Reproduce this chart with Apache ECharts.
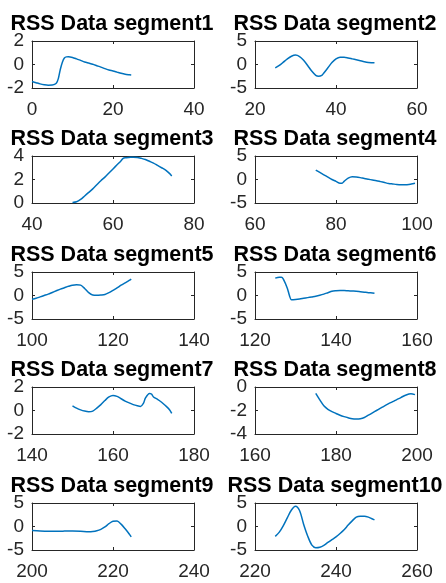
<!DOCTYPE html>
<html>
<head>
<meta charset="utf-8">
<script src="https://cdn.jsdelivr.net/npm/echarts@6/dist/echarts.min.js"></script>
<style>html,body{margin:0;padding:0;background:#fff}#c{width:446px;height:583px}</style>
</head>
<body>
<div id="c"></div>
<script>
const titles = ['RSS Data segment1','RSS Data segment2','RSS Data segment3','RSS Data segment4','RSS Data segment5','RSS Data segment6','RSS Data segment7','RSS Data segment8','RSS Data segment9','RSS Data segment10'];
const xRanges = [[0,40],[20,60],[40,80],[60,100],[100,140],[120,160],[140,180],[160,200],[200,240],[220,260]];
const yRanges = [[-2,2,2],[-5,5,5],[0,4,2],[-5,5,5],[-5,5,5],[-5,5,5],[-2,2,2],[-4,0,2],[-5,5,5],[-5,5,5]];
const xTickStep = 20;

const seg1 = [[0,-1.45],[1,-1.55],[2,-1.65],[3,-1.72],[4,-1.76],[5,-1.75],[6,-1.6],[6.5,-1.2],[7,-0.4],[7.5,0.2],[8,0.55],[8.5,0.65],[9,0.66],[10,0.6],[11,0.48],[12,0.35],[13,0.22],[14,0.12],[15,0.02],[16,-0.1],[17,-0.22],[18,-0.35],[19,-0.47],[20,-0.55],[21,-0.65],[22,-0.75],[23,-0.83],[24,-0.88],[24.5,-0.9]];
const seg2 = [[25,-0.7],[26,-0.2],[27,0.5],[28,1.2],[29,1.75],[30,2.0],[31,1.7],[32,0.9],[33,-0.2],[34,-1.4],[35,-2.3],[35.7,-2.5],[36.5,-2.3],[37,-1.8],[38,-0.7],[39,0.4],[40,1.2],[41,1.55],[42,1.55],[43,1.4],[44,1.2],[45,1.0],[46,0.8],[47,0.6],[48,0.45],[49,0.38],[49.5,0.35]];
const seg3 = [[50,0.05],[51,0.1],[52,0.3],[53,0.6],[54,0.9],[55,1.2],[56,1.55],[57,1.9],[58,2.2],[59,2.55],[60,2.9],[61,3.25],[62,3.6],[62.5,3.8],[63,3.85],[64,3.88],[65,3.9],[66,3.88],[67,3.8],[68,3.7],[69,3.55],[70,3.4],[71,3.2],[72,3.0],[73,2.8],[74,2.5],[74.5,2.3]];
const seg4 = [[75,2.0],[76,1.5],[77,1.0],[78,0.5],[79,0.0],[80,-0.4],[81,-0.8],[81.5,-0.8],[82,-0.4],[83,0.3],[84,0.6],[85,0.55],[86,0.4],[87,0.2],[88,0.05],[89,-0.1],[90,-0.25],[91,-0.45],[92,-0.65],[93,-0.85],[94,-0.95],[95,-1.05],[96,-1.1],[97,-1.1],[98,-1.05],[99,-0.9],[99.5,-0.8]];
const seg5 = [[100,-0.8],[101,-0.6],[102,-0.3],[103,0.0],[104,0.3],[105,0.65],[106,1.0],[107,1.35],[108,1.65],[109,1.95],[110,2.2],[111,2.3],[112,2.2],[113,1.5],[114,0.6],[115,0.1],[116,0.05],[117,0.1],[118,0.2],[119,0.6],[120,1.1],[121,1.6],[122,2.2],[123,2.7],[124,3.2],[124.5,3.5]];
const seg6 = [[125,3.7],[126,3.9],[126.5,3.9],[127,3.5],[128,1.5],[128.5,0],[129,-0.9],[130,-0.85],[131,-0.75],[132,-0.6],[133,-0.45],[134,-0.3],[135,-0.15],[136,0.05],[137,0.3],[138,0.6],[139,0.9],[140,1.0],[141,1.05],[142,1.05],[143,1.0],[144,0.95],[145,0.9],[146,0.8],[147,0.7],[148,0.6],[149,0.55],[149.5,0.5]];
const seg7 = [[150,0.4],[151,0.2],[152,0.05],[153,-0.05],[154,-0.1],[155,-0.05],[156,0.2],[157,0.5],[158,0.85],[159,1.15],[160,1.28],[161,1.2],[162,1.0],[163,0.8],[164,0.65],[165,0.5],[166,0.4],[166.8,0.35],[167.5,0.6],[168,1.05],[169,1.45],[169.5,1.4],[170,1.15],[171,0.95],[172,0.7],[173,0.4],[174,0.05],[174.5,-0.25]];
const seg8 = [[175,-0.55],[176,-1.1],[177,-1.6],[178,-1.9],[179,-2.1],[180,-2.25],[181,-2.4],[182,-2.52],[183,-2.62],[184,-2.7],[185,-2.72],[186,-2.7],[187,-2.6],[188,-2.4],[189,-2.2],[190,-2.0],[191,-1.8],[192,-1.6],[193,-1.42],[194,-1.25],[195,-1.07],[196,-0.9],[197,-0.72],[198,-0.6],[198.5,-0.58],[199.5,-0.65]];
const seg9 = [[200,-0.85],[202,-0.95],[204,-1.0],[206,-1.0],[208,-0.98],[210,-0.95],[212,-1.0],[214,-1.1],[215,-1.05],[216,-0.9],[217,-0.6],[218,-0.1],[219,0.6],[220,1.1],[221,1.15],[222,0.5],[223,-0.5],[224,-1.6],[224.5,-2.2]];
const seg10 = [[225,-2.1],[226,-1.2],[227,0.2],[228,1.9],[229,3.5],[230,4.3],[231,3.4],[232,0.5],[233,-2.0],[234,-3.9],[235,-4.5],[236,-4.4],[237,-4.0],[238,-3.4],[239,-2.8],[240,-2.2],[241,-1.5],[242,-0.7],[243,0.3],[244,1.2],[245,2.0],[246,2.2],[247,2.2],[248,2.0],[249,1.6],[249.5,1.4]];
const segments = [seg1,seg2,seg3,seg4,seg5,seg6,seg7,seg8,seg9,seg10];

const colLeft = [32, 255];
const rowTop = [41, 156, 272, 387, 503];
const boxW = 162, boxH = 47;
const axisColor = '#262626';
const font = '"Liberation Sans", Arial, sans-serif';

const grid = [], xAxis = [], yAxis = [], series = [], title = [];
segments.forEach((d, i) => {
  const col = i % 2, row = Math.floor(i / 2);
  grid.push({left: colLeft[col], top: rowTop[row], width: boxW, height: boxH, containLabel: false});
  const lineSt = {show: true, onZero: false, lineStyle: {color: axisColor, width: 1}};
  const tickSt = {show: true, inside: true, length: 3, lineStyle: {color: axisColor, width: 1}};
  const xr = xRanges[i], yr = yRanges[i];
  xAxis.push({type: 'value', gridIndex: i, min: xr[0], max: xr[1], interval: xTickStep, position: 'bottom',
    axisLine: lineSt, axisTick: tickSt, splitLine: {show: false},
    axisLabel: {color: axisColor, fontSize: 19, fontFamily: font, margin: 12, showMinLabel: true, showMaxLabel: true}});
  xAxis.push({type: 'value', gridIndex: i, min: xr[0], max: xr[1], interval: xTickStep, position: 'top',
    axisLine: lineSt, axisTick: tickSt, splitLine: {show: false}, axisLabel: {show: false}});
  yAxis.push({type: 'value', gridIndex: i, min: yr[0], max: yr[1], interval: yr[2], position: 'left',
    axisLine: lineSt, axisTick: tickSt, splitLine: {show: false},
    axisLabel: {color: axisColor, fontSize: 19, fontFamily: font, margin: 8, showMinLabel: true, showMaxLabel: true}});
  yAxis.push({type: 'value', gridIndex: i, min: yr[0], max: yr[1], interval: yr[2], position: 'right',
    axisLine: lineSt, axisTick: tickSt, splitLine: {show: false}, axisLabel: {show: false}});
  series.push({type: 'line', xAxisIndex: 2 * i, yAxisIndex: 2 * i, data: d, smooth: 0.3, showSymbol: false,
    lineStyle: {color: '#0072BD', width: 1.5}, silent: true, animation: false});
  title.push({text: titles[i], left: colLeft[col] + boxW / 2 - 1, top: rowTop[row] - 28, textAlign: 'center', padding: 0,
    textStyle: {fontSize: 21.5, fontWeight: 'bold', color: '#000', fontFamily: font}});
});

const chart = echarts.init(document.getElementById('c'), null, {renderer: 'canvas'});
chart.setOption({animation: false, backgroundColor: '#fff', title, grid, xAxis, yAxis, series});
</script>
</body>
</html>
